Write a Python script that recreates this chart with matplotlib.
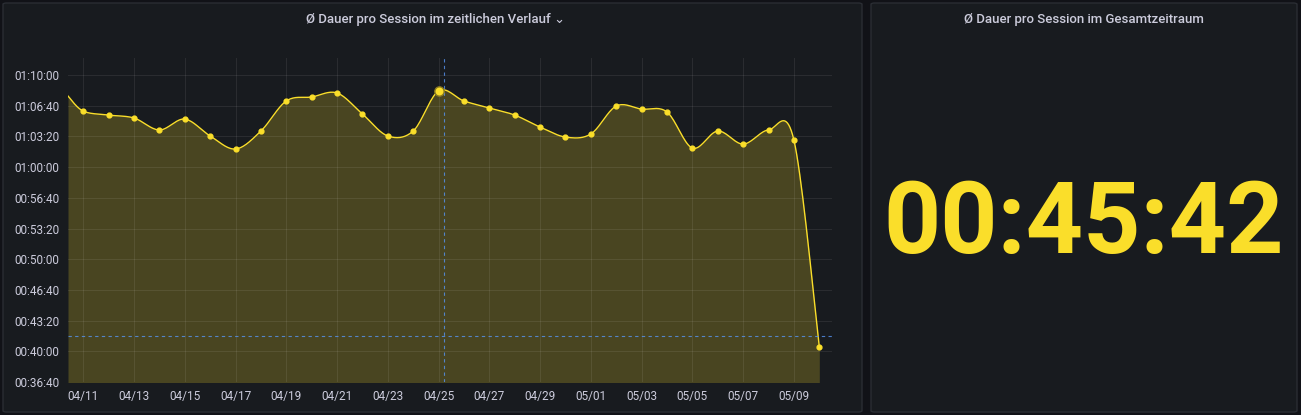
import numpy as np
import matplotlib.pyplot as plt
from matplotlib.patches import FancyBboxPatch
from matplotlib.ticker import FuncFormatter, FixedLocator

# Tag-Offsets relativ zu 04/11 (Tag 0) und Ø-Dauer in Sekunden
days = [-0.6] + list(range(0, 30))
secs = [4063, 3965, 3939, 3920, 3842, 3913, 3803, 3718, 3835, 4031, 4057,
        4083, 3946, 3803, 3835, 4096, 4031, 3985, 3939, 3861, 3796, 3816,
        3998, 3978, 3959, 3724, 3835, 3750, 3842, 3776, 2428]
tick_days = list(range(0, 29, 2))
tick_labels = ["04/11", "04/13", "04/15", "04/17", "04/19", "04/21", "04/23",
               "04/25", "04/27", "04/29", "05/01", "05/03", "05/05", "05/07", "05/09"]
total_text = "00:45:42"
title_left = "Ø Dauer pro Session im zeitlichen Verlauf ⌄"
title_right = "Ø Dauer pro Session im Gesamtzeitraum"

BG = "#111217"
PANEL = "#181b1f"
YEL = "#fade2a"
TXT = "#ccccdc"

plt.rcParams['font.family'] = ['Roboto', 'DejaVu Sans']

fig = plt.figure(figsize=(13.01, 4.15), dpi=100, facecolor=BG)
W, H = 1301, 415

def panel(x0, x1):
    fig.patches.append(FancyBboxPatch((x0 / W, 3 / H), (x1 - x0) / W, (H - 6) / H,
                                      boxstyle="round,pad=0,rounding_size=0.003",
                                      transform=fig.transFigure, facecolor=PANEL,
                                      edgecolor="#2a2d33", lw=1, zorder=-5))
panel(3, 862)
panel(871, 1297)

fig.text(436 / W, 1 - 19 / H, title_left, color=TXT, fontsize=9.5, ha="center",
         va="center", fontweight="medium")
fig.text(1084 / W, 1 - 19 / H, title_right, color=TXT, fontsize=9.5, ha="center",
         va="center", fontweight="medium")
fig.text(1084 / W, 1 - 225 / H, total_text, color=YEL, fontsize=72, ha="center",
         va="center", fontweight="bold")

ax = fig.add_axes([68 / W, 1 - 382 / H, (832 - 68) / W, (382 - 58) / H])
ax.set_zorder(2)
ax.set_facecolor(PANEL)

# glatte Kurve (Catmull-Rom) durch die Messpunkte
x = np.array(days, float)
y = np.array(secs, float)
xs, ys = [], []
for i in range(len(x) - 1):
    p0 = max(i - 1, 0); p3 = min(i + 2, len(x) - 1)
    t = np.linspace(0, 1, 20)
    for arr, out in ((x, xs), (y, ys)):
        a, b, c, d = arr[p0], arr[i], arr[i + 1], arr[p3]
        out.extend(0.5 * (2 * b + (-a + c) * t + (2 * a - 5 * b + 4 * c - d) * t ** 2
                          + (-a + 3 * b - 3 * c + d) * t ** 3))
ax.fill_between(xs, ys, 2100, color=YEL, alpha=0.22, lw=0)
ax.plot(xs, ys, color=YEL, lw=1)
ax.scatter(x[1:], y[1:], s=12, color=YEL, zorder=3)
ax.scatter([x[15]], [y[15]], s=45, color=YEL, edgecolor="#8a7a20", zorder=4)

ax.axvline(14.2, color="#5794f2", ls=(0, (3, 3)), lw=0.8, alpha=0.8)
ax.axhline(2500, color="#5794f2", ls=(0, (3, 3)), lw=0.8, alpha=0.8)

ax.set_xlim(-0.6, 29.5)
ax.set_ylim(2200, 4311)
ax.xaxis.set_major_locator(FixedLocator(tick_days))
ax.set_xticklabels(tick_labels)
ax.yaxis.set_major_locator(FixedLocator(np.arange(2200, 4201, 200)))
ax.yaxis.set_major_formatter(FuncFormatter(
    lambda v, p: f"{int(v)//3600:02d}:{int(v)%3600//60:02d}:{int(v)%60:02d}"))
ax.tick_params(colors=TXT, labelsize=8.5, length=0, pad=6)
ax.grid(color="#ffffff", alpha=0.08, lw=0.8)
for s in ax.spines.values():
    s.set_visible(False)

fig.savefig("out.png", dpi=100, facecolor=BG)
